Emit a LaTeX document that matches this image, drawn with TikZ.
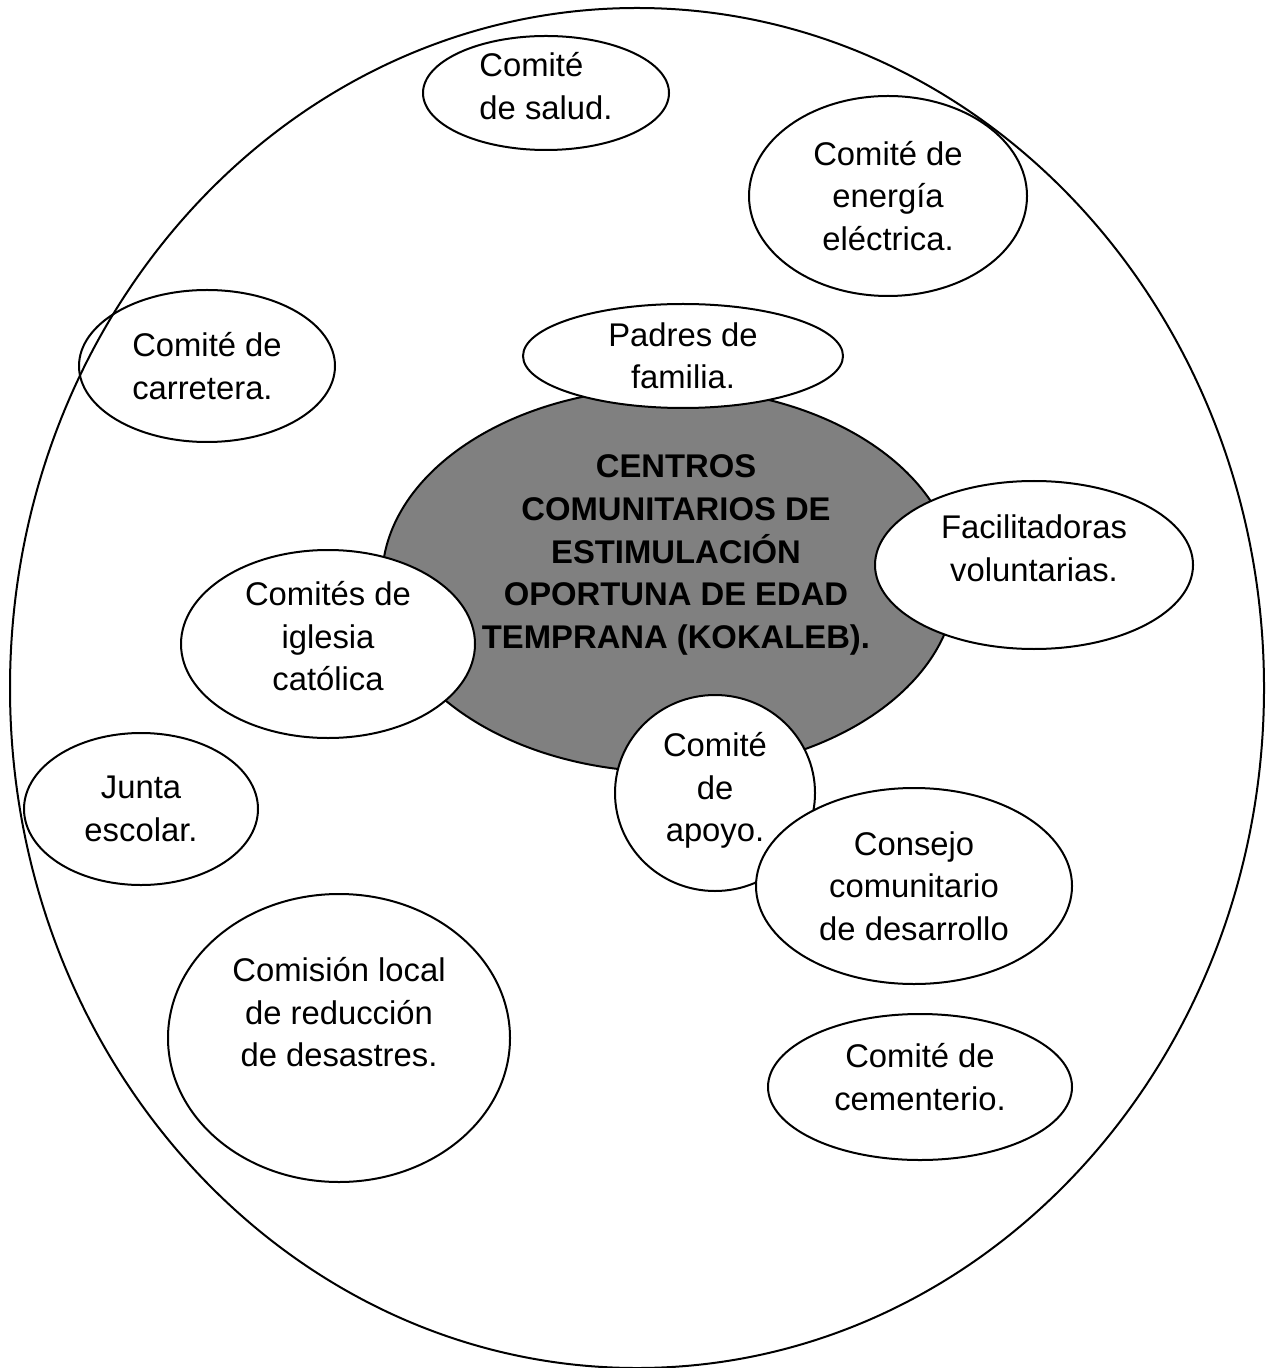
\documentclass[tikz,border=0pt]{standalone}
\usepackage{fontspec}
\setmainfont{Liberation Sans}
\usetikzlibrary{shapes.geometric}
\definecolor{grisCentro}{RGB}{128,128,128}

\begin{document}
\begin{tikzpicture}[x=0.5pt, y=-0.5pt, every node/.style={draw, ellipse, line width=1pt, fill=white, inner sep=0pt, align=center, font=\fontsize{16.4}{21.2}\selectfont}]
  \useasboundingbox (0,0) rectangle (1274,1368);
  % central shape and its title
  \node (centro) [fill=grisCentro, minimum width=287pt, minimum height=192pt] at (669,580) {};
  \node (titulo) [draw=none, fill=none, font=\bfseries\fontsize{16.4}{21.3}\selectfont] at (676,555) {CENTROS\\COMUNITARIOS DE\\ESTIMULACIÓN\\OPORTUNA DE EDAD\\TEMPRANA (KOKALEB).};
  % groups round it
  \node (padres) [minimum width=160pt, minimum height=52pt] at (683,356) {Padres de\\familia.};
  \node (facilitadoras) [minimum width=159pt, minimum height=84pt, text depth=17pt] at (1034,565) {Facilitadoras\\voluntarias.};
  \node (iglesia) [minimum width=147pt, minimum height=94pt, text depth=8pt] at (328,644) {Comités de\\iglesia\\católica};
  \node (apoyo) [minimum width=100pt, minimum height=98pt, text depth=6pt] at (715,793) {Comité\\de\\apoyo.};
  \node (consejo) [minimum width=158pt, minimum height=98pt] at (914,886) {Consejo\\comunitario\\de desarrollo};
  \node (salud) [minimum width=123pt, minimum height=57pt, align=left, text depth=7pt] at (546,93) {Comité\\de salud.};
  \node (energia) [minimum width=139pt, minimum height=100pt] at (888,196) {Comité de\\energía\\eléctrica.};
  \node (carretera) [minimum width=128pt, minimum height=76pt, align=left] at (207,366) {Comité de\\carretera.};
  \node (junta) [minimum width=117pt, minimum height=76pt] at (141,809) {Junta\\escolar.};
  \node (comision) [minimum width=171pt, minimum height=144pt, text depth=26pt] at (339,1038) {Comisión local\\de reducción\\de desastres.};
  \node (cementerio) [minimum width=152pt, minimum height=73pt, text depth=10pt] at (920,1087) {Comité de\\cementerio.};
  % outer boundary
  \node (comunidad) [fill=none, minimum width=627pt, minimum height=680pt] at (637,688) {};
\end{tikzpicture}
\end{document}
